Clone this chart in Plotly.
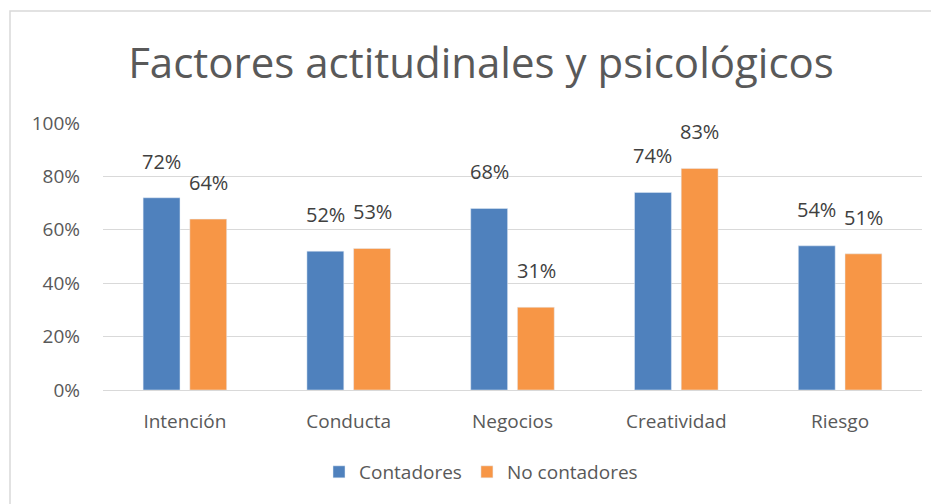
import plotly.graph_objects as go

# data
categorias = ["Intención", "Conducta", "Negocios", "Creatividad", "Riesgo"]
contadores = [0.72, 0.52, 0.68, 0.74, 0.54]
no_contadores = [0.64, 0.53, 0.31, 0.83, 0.51]

FONT = "Open Sans"
GRAY = "#595959"
LABEL = "#404040"

fig = go.Figure()

fig.add_trace(go.Bar(
    x=categorias, y=contadores, name="Contadores",
    marker=dict(color="#4F81BD"),
))
fig.add_trace(go.Bar(
    x=categorias, y=no_contadores, name="No contadores",
    marker=dict(color="#F79646"),
))

# value labels above each bar
for serie, shift in [(contadores, -23.5), (no_contadores, 23.5)]:
    for cat, v in zip(categorias, serie):
        fig.add_annotation(x=cat, y=v, text=f"{v:.0%}", showarrow=False,
                           xshift=shift, yshift=21, yanchor="bottom",
                           font=dict(family=FONT, size=20, color=LABEL))

# outer chart border (page has an 8px body margin)
fig.add_shape(type="rect", xref="paper", yref="paper",
              x0=(2 - 95) / 819, x1=1.2, y0=-0.6, y1=(382 - 3) / 267,
              line=dict(color="#D9D9D9", width=1.5), layer="below")

fig.update_layout(
    width=931, height=496,
    margin=dict(l=95, r=17, t=115, b=114),
    paper_bgcolor="white", plot_bgcolor="white",
    title=dict(text="Factores actitudinales y psicológicos",
               x=(481 - 8) / 931, xanchor="center", y=1 - 55 / 496, yanchor="middle",
               yref="container", xref="container",
               font=dict(family=FONT, size=42, color=GRAY)),
    barmode="group", bargap=0.43, bargroupgap=0.21,
    showlegend=True,
    legend=dict(orientation="h", x=(481 - 8 - 95) / 819, xanchor="center",
                y=-0.307, yanchor="middle",
                font=dict(family=FONT, size=19, color=GRAY)),
    xaxis=dict(showgrid=False, showline=False, ticks="", ticklabelstandoff=18,
               tickfont=dict(family=FONT, size=19, color=GRAY)),
    yaxis=dict(range=[0, 1.0], dtick=0.2, tickformat=".0%",
               showgrid=True, gridcolor="#D9D9D9", gridwidth=1,
               zeroline=True, zerolinecolor="#D9D9D9", zerolinewidth=1,
               showline=False, ticks="", ticklabelstandoff=22,
               tickfont=dict(family=FONT, size=19, color=GRAY)),
)

fig.write_html("out.html")
